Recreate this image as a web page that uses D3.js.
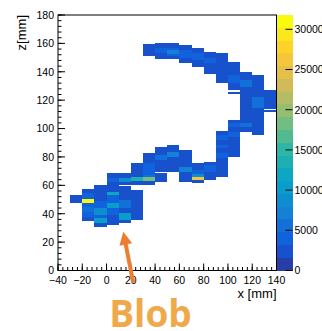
<!DOCTYPE html>
<html><head><meta charset="utf-8">
<script src="https://cdn.jsdelivr.net/npm/d3@7"></script>
<style>html,body{margin:0;padding:0;background:#fff;} svg{display:block;}</style>
</head><body><svg id="c" width="322" height="331"></svg>
<script>
// ---- data ----
const xTicks = [-40, -20, 0, 20, 40, 60, 80, 100, 120, 140];
const zTicks = [0, 20, 40, 60, 80, 100, 120, 140, 160, 180];
const paletteTicks = [0, 5000, 10000, 15000, 20000, 25000, 30000];
const xTitle = "x [mm]";
const zTitle = "z[mm]";
const zMax = 31780;
const nContours = 20;
const xBinWidth = 10;
// cells: [xLow, zLow, zHigh, content]
const blobCells = [
  [-30, 47.8, 53.4, 1800],
  [-20, 34.6, 37.6, 2400], [-20, 37.6, 41.2, 3500], [-20, 41.2, 44.7, 6000],
  [-20, 44.7, 47.5, 4500], [-20, 47.5, 50.1, 31780], [-20, 50.1, 54.4, 4000],
  [-20, 54.4, 57.2, 2000],
  [-10, 30.6, 33.2, 2400], [-10, 33.2, 36.7, 11000], [-10, 36.7, 38.8, 4000],
  [-10, 38.8, 43.8, 9000], [-10, 43.8, 49, 4000], [-10, 49, 54.4, 2900],
  [-10, 54.4, 60, 1800],
  [0, 32, 34, 1800], [0, 34, 38.8, 2400], [0, 38.8, 43.8, 4000],
  [0, 43.8, 47.3, 10000], [0, 47.3, 53, 4000], [0, 53, 55.3, 12000],
  [0, 55.3, 60, 2000], [0, 60, 62.5, 2400], [0, 62.5, 65, 4500], [0, 65, 68.5, 2000],
  [10, 33.2, 35.3, 2400], [10, 35.3, 40.2, 10000], [10, 40.2, 43.8, 3000],
  [10, 43.8, 49.4, 5000], [10, 49.4, 54, 2400], [10, 54, 59.3, 1800],
  [10, 60, 62.3, 2400], [10, 62.3, 65, 8000], [10, 65, 68.5, 2400],
  [20, 35.3, 56.5, 2000], [20, 60, 62.8, 2400], [20, 62.8, 65.6, 14000],
  [20, 65.6, 68, 3000], [20, 68, 75.5, 1800]
];
const middleCells = [
  [30, 60, 62.8, 2400], [30, 62.8, 65.6, 18000], [30, 65.6, 67, 5000],
  [30, 67, 75.5, 3500], [30, 75.5, 82.6, 1800],
  [40, 62.1, 68.7, 2000], [40, 69.4, 77.6, 2400], [40, 77.6, 81.2, 5000], [40, 81.2, 87, 2400],
  [50, 69.2, 75.5, 3000], [50, 75.5, 80, 2000], [50, 80, 83.5, 7500], [50, 83.5, 88.2, 2400],
  [60, 62.1, 69.4, 2900], [60, 69.4, 72.9, 7000], [60, 72.9, 84.7, 2000],
  [70, 61.4, 63.5, 3000], [70, 63.5, 65.6, 27000], [70, 65.6, 68, 8000],
  [70, 68, 70.6, 4000], [70, 70.6, 75.5, 2000],
  [80, 63.5, 69.2, 2400], [80, 69.2, 74.1, 4500], [80, 74.1, 76.4, 2000],
  [90, 65.6, 79, 2000], [90, 79, 82.6, 4500], [90, 82.6, 86.1, 2000],
  [90, 86.1, 88.2, 4000], [90, 88.2, 91.8, 2000], [90, 91.8, 95.3, 4000], [90, 95.3, 98.1, 1800],
  [100, 79.8, 93.9, 1800], [100, 93.9, 97.4, 4000], [100, 97.4, 101, 2000],
  [100, 101, 103.8, 4000], [100, 103.8, 105.9, 1800]
];
const arcCells = [
  [110, 97.4, 101, 1800], [110, 101, 103.8, 5500], [110, 103.8, 129, 2000],
  [110, 129, 134, 5000], [110, 134, 139.8, 1800],
  [120, 95.3, 114.4, 2000], [120, 114.4, 122, 5000], [120, 122, 137.6, 1800],
  [130, 111.5, 113, 2400], [130, 113.6, 120, 2600], [130, 120, 127, 2000],
  [100, 124, 125.5, 2400], [100, 127, 132, 1800], [100, 132, 137.6, 4000], [100, 137.6, 146.8, 2000],
  [90, 131.8, 139.8, 1800], [90, 139.8, 142.6, 3000], [90, 142.6, 153, 1800],
  [80, 138.4, 146, 1800], [80, 146, 149.6, 3500], [80, 149.6, 154, 2000],
  [70, 143.5, 148, 1800], [70, 148, 153, 3500], [70, 153, 156.5, 1800],
  [60, 146.3, 150, 2400], [60, 150, 155, 4000], [60, 155, 158.8, 2400],
  [50, 148.7, 151, 2900], [50, 151, 152.6, 4000], [50, 152.6, 155, 7000],
  [50, 155, 157, 4000], [50, 157, 160, 2600],
  [40, 148.7, 153, 1800], [40, 153, 157, 4500], [40, 157, 160.4, 2400],
  [30, 151, 159.3, 1800]
];
// annotation: arrow from tail to tip in data coords, label
const arrowTail = [22, -8.8];
const arrowTip = [13.8, 27.3];
const blobLabel = "Blob";

// kBird palette stops
const birdStops = [0.0000, 0.1250, 0.2500, 0.3750, 0.5000, 0.6250, 0.7500, 0.8750, 1.0000];
const birdR = [0.2082, 0.0592, 0.0780, 0.0232, 0.1802, 0.5301, 0.8186, 0.9956, 0.9764];
const birdG = [0.1664, 0.3599, 0.5041, 0.6419, 0.7178, 0.7492, 0.7328, 0.7862, 0.9832];
const birdB = [0.5293, 0.8684, 0.8385, 0.7914, 0.6425, 0.4662, 0.3499, 0.1968, 0.0539];

// ---- layout ----
const L = 58, R = 276.5, T = 15, B = 270.5;
const cbL = 277, cbR = 292.5;
const svg = d3.select("#c");
const font = "'Liberation Sans', Arial, Helvetica, sans-serif";

const x = d3.scaleLinear().domain([-40, 140]).range([L, R]);
const y = d3.scaleLinear().domain([0, 180]).range([B, T]);
const zc = d3.scaleLinear().domain([0, zMax]).range([B, T]);

const bird = d3.scaleLinear().domain(birdStops)
  .range(birdStops.map((s, i) => d3.rgb(birdR[i] * 255, birdG[i] * 255, birdB[i] * 255)))
  .interpolate(d3.interpolateRgb);
const levelColor = k => bird(Math.floor((k + 0.99) * 255 / nContours) / 254);
const levelOf = v => Math.min(nContours - 1, Math.floor(v / (zMax / nContours)));

// cells
const cells = blobCells.concat(middleCells, arcCells);
svg.append("g").selectAll("rect").data(cells).join("rect")
  .attr("x", d => x(d[0]))
  .attr("width", d => x(d[0] + xBinWidth) - x(d[0]))
  .attr("y", d => y(d[2]))
  .attr("height", d => y(d[1]) - y(d[2]))
  .attr("fill", d => levelColor(levelOf(d[3])))
  .attr("shape-rendering", "crispEdges");

// palette
const levels = d3.range(nContours);
svg.append("g").selectAll("rect").data(levels).join("rect")
  .attr("x", cbL).attr("width", cbR - cbL)
  .attr("y", k => zc((k + 1) * zMax / nContours))
  .attr("height", k => zc(k * zMax / nContours) - zc((k + 1) * zMax / nContours))
  .attr("fill", k => levelColor(k))
  .attr("shape-rendering", "crispEdges");

const paxis = d3.axisRight(zc).tickValues(paletteTicks).tickSize(0).tickPadding(2)
  .tickFormat(d3.format("d"));
const pg = svg.append("g").attr("transform", `translate(${cbR},0)`).call(paxis);
pg.select(".domain").remove();
pg.selectAll("text").attr("font-family", font).attr("font-size", 10.5).attr("fill", "#000");
svg.append("g").selectAll("line").data(paletteTicks).join("line")
  .attr("x1", cbR - 7).attr("x2", cbR)
  .attr("y1", d => zc(d)).attr("y2", d => zc(d))
  .attr("stroke", "#000").attr("stroke-width", 1);

// frame
svg.append("rect").attr("x", L).attr("y", T).attr("width", R - L).attr("height", B - T)
  .attr("fill", "none").attr("stroke", "#000").attr("stroke-width", 1);

// axes: ticks inward
const xMinor = d3.range(-40, 140.01, 4);
const zMinor = d3.range(0, 180.01, 4);
const gx = svg.append("g");
gx.selectAll("line.mn").data(xMinor).join("line")
  .attr("x1", d => x(d)).attr("x2", d => x(d)).attr("y1", B).attr("y2", B - 3.5)
  .attr("stroke", "#000");
gx.selectAll("line.mj").data(xTicks).join("line")
  .attr("x1", d => x(d)).attr("x2", d => x(d)).attr("y1", B).attr("y2", B - 7)
  .attr("stroke", "#000");
gx.selectAll("text").data(xTicks).join("text")
  .attr("x", d => x(d)).attr("y", B + 13).attr("text-anchor", "middle")
  .attr("font-family", font).attr("font-size", 10.5)
  .text(d => d < 0 ? "\u2212" + Math.abs(d) : d);

const gy = svg.append("g");
gy.selectAll("line.mn").data(zMinor).join("line")
  .attr("y1", d => y(d)).attr("y2", d => y(d)).attr("x1", L).attr("x2", L + 3.5)
  .attr("stroke", "#000");
gy.selectAll("line.mj").data(zTicks).join("line")
  .attr("y1", d => y(d)).attr("y2", d => y(d)).attr("x1", L).attr("x2", L + 7)
  .attr("stroke", "#000");
gy.selectAll("text").data(zTicks).join("text")
  .attr("x", L - 4).attr("y", d => y(d) + 3.8).attr("text-anchor", "end")
  .attr("font-family", font).attr("font-size", 10.5)
  .text(d => d);

// titles
svg.append("text").attr("x", R).attr("y", 298).attr("text-anchor", "end")
  .attr("font-family", font).attr("font-size", 13).text(xTitle);
svg.append("text").attr("transform", `translate(26,${T}) rotate(-90)`).attr("text-anchor", "end")
  .attr("font-family", font).attr("font-size", 13).text(zTitle);

// annotation arrow
const orange = "#ED7D31";
const tx = x(arrowTail[0]), ty = y(arrowTail[1]);
const hx = x(arrowTip[0]), hy = y(arrowTip[1]);
const ang = Math.atan2(hy - ty, hx - tx);
const headLen = 13, headHalf = 6.5;
const bx = hx - headLen * Math.cos(ang), by = hy - headLen * Math.sin(ang);
const px = -Math.sin(ang), py = Math.cos(ang);
svg.append("line").attr("x1", tx).attr("y1", ty).attr("x2", bx + 1 * Math.cos(ang)).attr("y2", by + 1 * Math.sin(ang))
  .attr("stroke", orange).attr("stroke-width", 4);
svg.append("path")
  .attr("d", `M${hx},${hy}L${bx + px * headHalf},${by + py * headHalf}L${bx - px * headHalf},${by - py * headHalf}Z`)
  .attr("fill", orange);

svg.append("text").attr("x", 150.5).attr("y", 326.5).attr("text-anchor", "middle")
  .attr("font-family", "'Open Sans', 'Noto Sans', sans-serif").attr("font-weight", 700)
  .attr("font-size", 37).attr("fill", "#F0A94A").text(blobLabel);
</script></body></html>
